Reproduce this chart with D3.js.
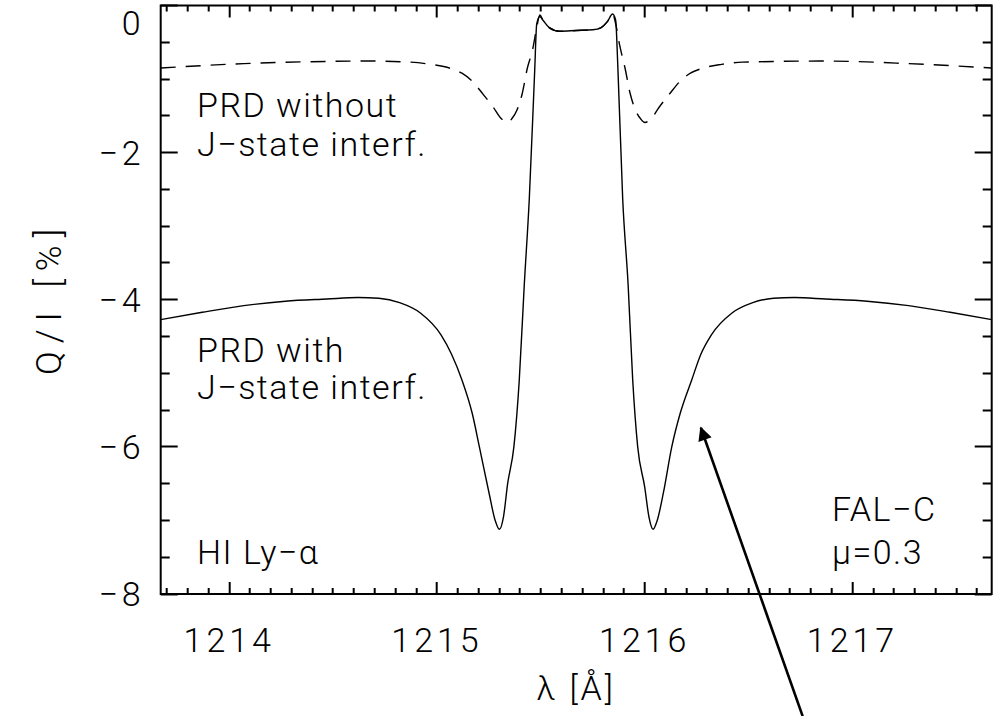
<!DOCTYPE html>
<html>
<head>
<meta charset="utf-8">
<script src="https://cdn.jsdelivr.net/npm/d3@7/dist/d3.min.js"></script>
<style>
  body { margin: 0; background: #fff; }
  text { font-family: Roboto, "DejaVu Sans", sans-serif; font-weight: 300; fill: #000; }
</style>
</head>
<body>
<div class="chart"></div>
<script>
// wavelength grid (Angstrom) and Q/I (%) for PRD with J-state interference
const lambdaWith = [1213.67, 1213.87, 1214.07, 1214.27, 1214.47, 1214.62, 1214.72, 1214.82, 1214.92, 1215.02,
  1215.07, 1215.12, 1215.17, 1215.204, 1215.25, 1215.28, 1215.30, 1215.32, 1215.34, 1215.37,
  1215.396, 1215.42, 1215.444, 1215.47, 1215.48, 1215.495, 1215.51, 1215.54, 1215.59, 1215.67,
  1215.75, 1215.79, 1215.82, 1215.845, 1215.86, 1215.87, 1215.894, 1215.92, 1215.942, 1215.966,
  1216.00, 1216.02, 1216.04, 1216.06, 1216.09, 1216.13, 1216.17, 1216.226, 1216.27, 1216.32,
  1216.42, 1216.52, 1216.62, 1216.72, 1216.87, 1217.07, 1217.27, 1217.47, 1217.67];
const qiWith = [-4.27, -4.17, -4.08, -4.02, -3.99, -3.97, -3.98, -4.04, -4.18, -4.48,
  -4.74, -5.09, -5.55, -6.0, -6.62, -7.0, -7.12, -6.95, -6.5, -6.0,
  -5.09, -3.8, -2.64, -0.9, -0.25, -0.15, -0.2, -0.3, -0.35, -0.34,
  -0.33, -0.3, -0.22, -0.115, -0.2, -0.8, -2.64, -3.8, -5.09, -6.0,
  -6.55, -6.95, -7.12, -7.0, -6.62, -6.0, -5.55, -5.09, -4.74, -4.48,
  -4.18, -4.04, -3.98, -3.97, -3.99, -4.02, -4.08, -4.17, -4.27];

// PRD without J-state interference
const lambdaWithout = [1213.67, 1214.07, 1214.47, 1214.67, 1214.87, 1214.97, 1215.07, 1215.12, 1215.17, 1215.22,
  1215.27, 1215.31, 1215.34, 1215.36, 1215.385, 1215.41, 1215.435, 1215.46, 1215.48, 1215.495,
  1215.51, 1215.54, 1215.59, 1215.67, 1215.75, 1215.79, 1215.82, 1215.845, 1215.86, 1215.88,
  1215.905, 1215.93, 1215.955, 1215.98, 1216.00, 1216.03, 1216.07, 1216.12, 1216.17, 1216.22,
  1216.27, 1216.37, 1216.47, 1216.87, 1217.27, 1217.67];
const qiWithout = [-0.85, -0.79, -0.76, -0.755, -0.77, -0.80, -0.86, -0.92, -1.03, -1.2,
  -1.38, -1.54, -1.59, -1.54, -1.42, -1.2, -0.85, -0.6, -0.3, -0.13,
  -0.2, -0.3, -0.35, -0.34, -0.33, -0.3, -0.22, -0.11, -0.25, -0.55,
  -0.85, -1.2, -1.42, -1.54, -1.59, -1.54, -1.38, -1.2, -1.03, -0.92,
  -0.86, -0.8, -0.77, -0.755, -0.79, -0.85];

const xTicks = [1214, 1215, 1216, 1217];
const yTicks = [0, -2, -4, -6, -8];
const xMinor = d3.range(37, 77).map(i => 1210 + i / 10);
const yMinor = d3.range(0, 17).map(i => -i / 2);

// annotation arrow, in data units (tail lies below the plot)
const arrowFrom = [1216.76, -9.66];
const arrowTo = [1216.27, -5.74];

const margin = {top: 5.5, right: 8.3, bottom: 122, left: 160.7};
const width = 1000 - margin.left - margin.right,
      height = 716 - margin.top - margin.bottom;

const svgRoot = d3.select(".chart").append("svg")
  .attr("width", 1000)
  .attr("height", 716);

svgRoot.append("defs").append("marker")
  .attr("id", "head")
  .attr("viewBox", "0 0 10 10")
  .attr("refX", 9)
  .attr("refY", 5)
  .attr("markerUnits", "userSpaceOnUse")
  .attr("markerWidth", 20)
  .attr("markerHeight", 14)
  .attr("orient", "auto")
  .append("path")
  .attr("d", "M0,0 L10,5 L0,10 Z")
  .attr("fill", "#000");

const svg = svgRoot.append("g")
  .attr("transform", "translate(" + margin.left + "," + margin.top + ")");

const xScale = d3.scaleLinear().domain([1213.67, 1217.67]).range([0, width]);
const yScale = d3.scaleLinear().domain([-8, 0]).range([height, 0]);

// all inward ticks of the four sides as one path
const tickPath = d3.path();
[[xMinor, 6], [xTicks, 12]].forEach(([vals, len]) => vals.forEach(v => {
  const px = Math.round(xScale(v));
  tickPath.moveTo(px, height); tickPath.lineTo(px, height - len);
  tickPath.moveTo(px, 0); tickPath.lineTo(px, len);
}));
[[yMinor, 9], [yTicks, 17]].forEach(([vals, len]) => vals.forEach(v => {
  const py = Math.round(yScale(v));
  tickPath.moveTo(0, py); tickPath.lineTo(len, py);
  tickPath.moveTo(width, py); tickPath.lineTo(width - len, py);
}));
svg.append("path")
  .attr("d", tickPath.toString())
  .attr("fill", "none")
  .attr("stroke", "#000")
  .attr("stroke-width", 2);

// tick labels
svg.append("g")
  .selectAll("text")
  .data(xTicks)
  .enter()
  .append("text")
  .attr("x", d => xScale(d))
  .attr("y", height + 58)
  .attr("text-anchor", "middle")
  .style("font-size", "34px")
  .style("letter-spacing", "4px")
  .text(d => d);

svg.append("g")
  .selectAll("text")
  .data(yTicks)
  .enter()
  .append("text")
  .attr("x", -16)
  .attr("y", d => d === 0 ? yScale(d) + 29 : yScale(d) + 12)
  .attr("text-anchor", "end")
  .style("font-size", "34px")
  .style("letter-spacing", "4px")
  .text(d => d === 0 ? "0" : "\u2212" + Math.abs(d));

svg.append("rect")
  .attr("width", width)
  .attr("height", height)
  .attr("fill", "none")
  .attr("stroke", "#000")
  .attr("stroke-width", 2);

const line = d3.line()
  .x(d => xScale(d[0]))
  .y(d => yScale(d[1]))
  .curve(d3.curveMonotoneX);

svg.append("path")
  .datum(d3.zip(lambdaWithout, qiWithout))
  .attr("d", line)
  .attr("fill", "none")
  .attr("stroke", "#000")
  .attr("stroke-width", 1.4)
  .attr("stroke-dasharray", "15,10");

svg.append("path")
  .datum(d3.zip(lambdaWith, qiWith))
  .attr("d", line)
  .attr("fill", "none")
  .attr("stroke", "#000")
  .attr("stroke-width", 1.4);

svg.append("line")
  .attr("x1", xScale(arrowFrom[0]))
  .attr("y1", yScale(arrowFrom[1]))
  .attr("x2", xScale(arrowTo[0]))
  .attr("y2", yScale(arrowTo[1]))
  .attr("stroke", "#000")
  .attr("stroke-width", 2.6)
  .attr("marker-end", "url(#head)");

// labels
const labels = [
  {t: "PRD without", x: 197, y: 117},
  {t: "J\u2212state interf.", x: 197, y: 156},
  {t: "PRD with", x: 197, y: 362},
  {t: "J\u2212state interf.", x: 197, y: 399},
  {t: "HI Ly\u2212\u03b1", x: 197, y: 564},
  {t: "FAL\u2212C", x: 832, y: 521},
  {t: "\u03bc=0.3", x: 832, y: 564}
];
svgRoot.append("g")
  .selectAll("text")
  .data(labels)
  .enter()
  .append("text")
  .attr("x", d => d.x)
  .attr("y", d => d.y)
  .style("font-size", "34px")
  .style("letter-spacing", "1.5px")
  .text(d => d.t);

svgRoot.append("text")
  .attr("text-anchor", "middle")
  .attr("transform", "translate(61,298) rotate(-90)")
  .style("font-size", "35px")
  .style("letter-spacing", "8px")
  .text("Q/I [%]");

svgRoot.append("text")
  .attr("text-anchor", "middle")
  .attr("x", margin.left + width / 2)
  .attr("y", 700)
  .style("font-size", "34px")
  .style("letter-spacing", "3px")
  .text("\u03bb [\u00c5]");
</script>
</body>
</html>
